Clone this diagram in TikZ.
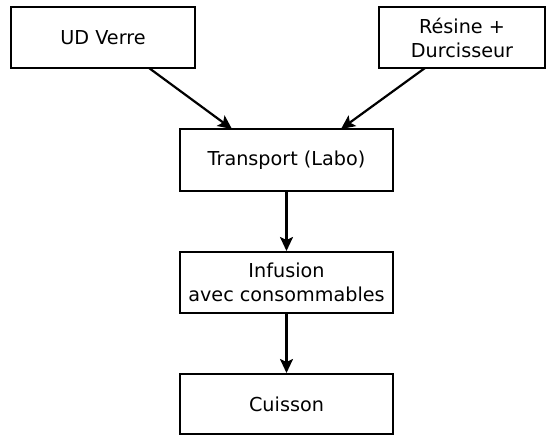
\documentclass[tikz,border=0pt]{standalone}
\usepackage{fontspec}
\setmainfont{DejaVu Sans}
\usetikzlibrary{arrows.meta}
\begin{document}
\begin{tikzpicture}[x=1pt,y=-1pt,
  box/.style={draw, line width=2pt, inner sep=0pt, align=center, font=\fontsize{19.2}{24}\selectfont},
  arr/.style={line width=2.2pt, -{Stealth[length=14pt,width=13pt,inset=3pt]}}]
\useasboundingbox (0,0) rectangle (553,436);
\node[box, minimum width=184pt, minimum height=61pt] (ud) at (103,37.5) {UD Verre};
\node[box, minimum width=166pt, minimum height=61pt] (res) at (462,37.5) {Résine +\\Durcisseur};
\node[box, minimum width=213pt, minimum height=62pt] (tr) at (286.5,160) {Transport (Labo)};
\node[box, minimum width=213pt, minimum height=61pt] (inf) at (286.5,282.5) {Infusion\\avec consommables};
\node[box, minimum width=213pt, minimum height=60pt] (cu) at (286.5,404) {Cuisson};
\draw[arr] (149,68) -- (232,129);
\draw[arr] (425,68) -- (341,129);
\draw[arr] (tr.south) -- (inf.north);
\draw[arr] (inf.south) -- (cu.north);
\end{tikzpicture}
\end{document}
